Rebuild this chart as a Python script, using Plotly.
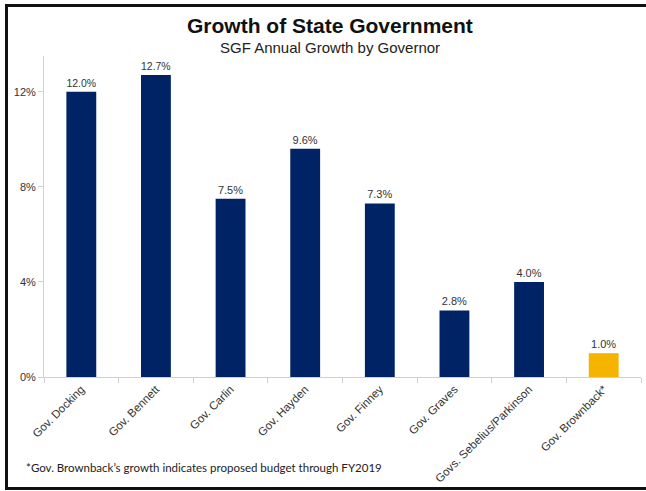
import plotly.graph_objects as go

# Chart data
governors = [
    "Gov. Docking", "Gov. Bennett", "Gov. Carlin", "Gov. Hayden",
    "Gov. Finney", "Gov. Graves", "Govs. Sebelius/Parkinson", "Gov. Brownback*",
]
growth_pct = [12.0, 12.7, 7.5, 9.6, 7.3, 2.8, 4.0, 1.0]
bar_colors = ["#002366"] * 7 + ["#F5B400"]
y_ticks = [0, 4, 8, 12]
y_tick_labels = ["0%", "4%", "8%", "12%"]

W, H = 646, 491
M_L, M_R, M_T, M_B = 44, 5, 56, 114
Y_MAX = 13.5

fig = go.Figure(
    go.Bar(
        x=governors,
        y=growth_pct,
        marker=dict(color=bar_colors, line=dict(width=0)),
        text=[f"{v:.1f}%" for v in growth_pct],
        textposition="outside",
        textfont=dict(family="Liberation Sans, Arial, sans-serif", size=11, color="#333333"),
        cliponaxis=False,
        hoverinfo="skip",
    )
)

# Frame drawn around the figure (paper coordinates relative to plot area)
pw = W - M_L - M_R
ph = H - M_T - M_B


def px_x(x):
    return (x - M_L) / pw


def px_y(y):
    return (H - M_B - y) / ph


frame = dict(color="#111111", width=3)
fig.add_shape(type="line", xref="paper", yref="paper",
              x0=px_x(6.5), x1=px_x(6.5), y0=px_y(5.5), y1=px_y(488.5), line=frame)
fig.add_shape(type="line", xref="paper", yref="paper",
              x0=px_x(5), x1=px_x(650), y0=px_y(5.5), y1=px_y(5.5), line=frame)
fig.add_shape(type="line", xref="paper", yref="paper",
              x0=px_x(5), x1=px_x(650), y0=px_y(488.5), y1=px_y(488.5), line=frame)

# Titles
fig.add_annotation(text="<b>Growth of State Government</b>", xref="paper", yref="paper",
                   x=px_x(330), y=px_y(25), showarrow=False, xanchor="center", yanchor="middle",
                   font=dict(family="Liberation Sans, Arial, sans-serif", size=21, color="#111111"))
fig.add_annotation(text="SGF Annual Growth by Governor", xref="paper", yref="paper",
                   x=px_x(330), y=px_y(47), showarrow=False, xanchor="center", yanchor="middle",
                   font=dict(family="Liberation Sans, Arial, sans-serif", size=15, color="#222222"))

# Footnote
fig.add_annotation(text="*Gov. Brownback\u2019s growth indicates proposed budget through FY2019",
                   xref="paper", yref="paper", x=px_x(24), y=px_y(467),
                   showarrow=False, xanchor="left", yanchor="middle",
                   font=dict(family="Lato, Carlito, sans-serif", size=11.5, color="#222222"))

fig.update_layout(
    width=W, height=H,
    margin=dict(l=M_L, r=M_R, t=M_T, b=M_B),
    paper_bgcolor="white", plot_bgcolor="white",
    bargap=0.6,
    showlegend=False,
    font=dict(family="Liberation Sans, Arial, sans-serif", size=11, color="#333333"),
)
fig.update_xaxes(
    tickangle=-45,
    showline=True, linecolor="#d0d0d0", linewidth=1,
    ticks="outside", ticklen=5, tickcolor="#d0d0d0", tickson="boundaries",
    tickfont=dict(size=11.5, color="#333333"),
    showgrid=False,
)
fig.update_yaxes(
    range=[0, Y_MAX],
    tickvals=y_ticks, ticktext=y_tick_labels,
    showline=True, linecolor="#d0d0d0", linewidth=1,
    ticks="outside", ticklen=5, tickcolor="#d0d0d0",
    tickfont=dict(size=11, color="#333333"),
    showgrid=False, zeroline=False,
)

fig.write_html("out.html")
